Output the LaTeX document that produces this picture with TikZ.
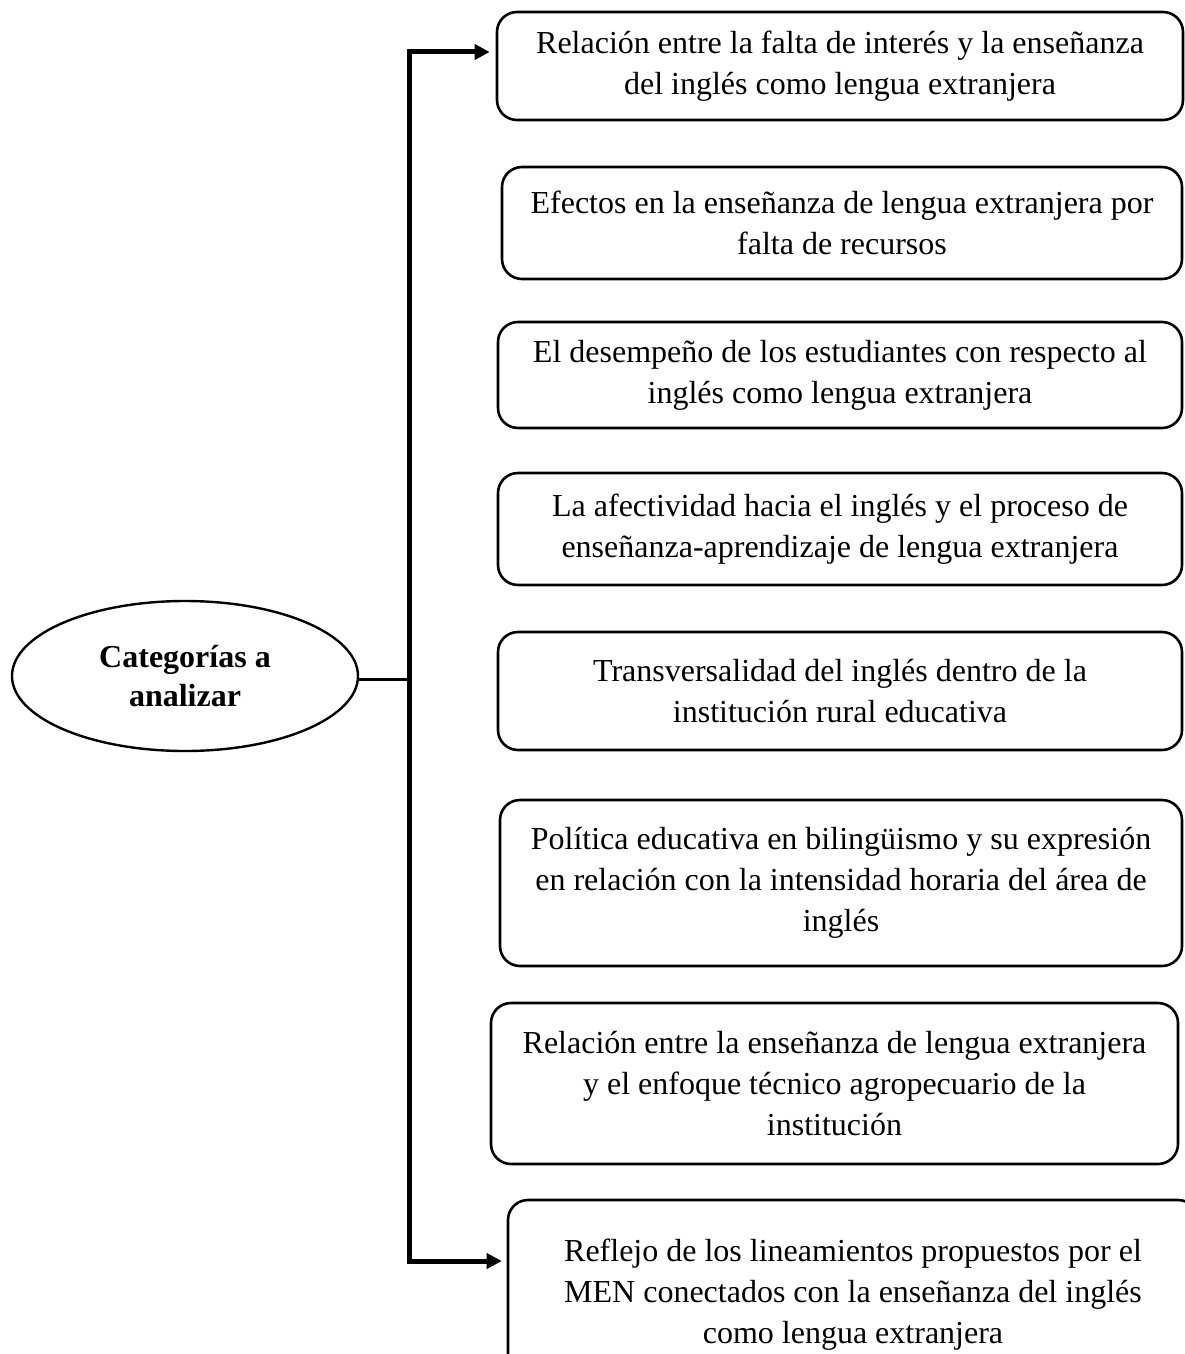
\documentclass[tikz,border=0pt]{standalone}
\usepackage{fontspec}
\setmainfont{Liberation Serif}
\usepackage{tikz}
\usetikzlibrary{arrows.meta,shapes.geometric}

\tikzset{
  catbox/.style={draw, line width=2.6pt, rounded corners=20pt, align=center,
    font=\fontsize{32}{41}\selectfont, inner sep=0pt},
  mainell/.style={draw, ellipse, line width=2.4pt, align=center, inner sep=0pt,
    minimum width=346pt, minimum height=150pt, font=\fontsize{32}{39}\selectfont\bfseries},
  link/.style={line width=5pt},
}

\begin{document}
\begin{tikzpicture}[x=1pt, y=-1pt, >={Triangle[length=15pt,width=15pt]}]
  \useasboundingbox (0,0) rectangle (1184,1354);
  % central category
  \node[mainell] (cat) at (185,676) {Categorías a\\analizar};
  % the eight categories
  \node[catbox, minimum width=686pt, minimum height=108pt] (r1) at (840,66)
    {Relación entre la falta de interés y la enseñanza\\del inglés como lengua extranjera};
  \node[catbox, minimum width=680pt, minimum height=112pt] (r2) at (842,223)
    {Efectos en la enseñanza de lengua extranjera por\\falta de recursos};
  \node[catbox, minimum width=684pt, minimum height=106pt] (r3) at (840,375)
    {El desempeño de los estudiantes con respecto al\\inglés como lengua extranjera};
  \node[catbox, minimum width=684pt, minimum height=112pt] (r4) at (840,529)
    {La afectividad hacia el inglés y el proceso de\\enseñanza-aprendizaje de lengua extranjera};
  \node[catbox, minimum width=684pt, minimum height=118pt] (r5) at (840,691)
    {Transversalidad del inglés dentro de la\\institución rural educativa};
  \node[catbox, minimum width=682pt, minimum height=166pt] (r6) at (841,883)
    {Política educativa en bilingüismo y su expresión\\en relación con la intensidad horaria del área de\\inglés};
  \node[catbox, minimum width=687pt, minimum height=161pt] (r7) at (834.5,1083.5)
    {Relación entre la enseñanza de lengua extranjera\\y el enfoque técnico agropecuario de la\\institución};
  \node[catbox, minimum width=690pt, minimum height=190pt] (r8) at (853,1295)
    {Reflejo de los lineamientos propuestos por el\\MEN conectados con la enseñanza del inglés\\como lengua extranjera};
  % connectors
  \coordinate (jn) at (409.5,679);
  \coordinate (t1) at ([xshift=-6pt, yshift=14pt]r1.west);
  \coordinate (t8) at ([xshift=-5pt, yshift=34pt]r8.west);
  \draw[line width=3pt] (cat.east |- jn) -- (jn);
  \draw[link, ->] (jn) |- (t1);
  \draw[link, ->] (jn) |- (t8);
\end{tikzpicture}
\end{document}
